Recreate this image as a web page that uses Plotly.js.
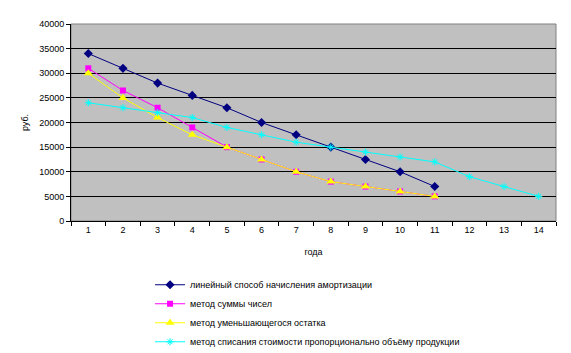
<!DOCTYPE html>
<html><head><meta charset="utf-8">
<script src="https://cdn.plot.ly/plotly-3.0.1.min.js"></script>
<style>html,body{margin:0;padding:0;background:#fff}</style>
</head><body>
<div id="chart" style="width:571px;height:353px"></div>
<script>
var years = ['1','2','3','4','5','6','7','8','9','10','11','12','13','14'];
var linear = [34000,31000,28000,25500,23000,20000,17500,15000,12500,10000,7000];
var sumDigits = [31000,26500,23000,19000,15000,12500,10000,8000,7000,6000,5000];
var declining = [30000,25000,21000,17500,15000,12500,10000,8000,7000,6000,5000];
var production = [24000,23000,22000,21000,19000,17500,16000,15000,14000,13000,12000,9000,7000,5000];
var names = ['линейный способ начисления амортизации','метод суммы чисел','метод уменьшающегося остатка','метод списания стоимости пропорционально объёму продукции'];

var traces = [
 {x: years.slice(0, linear.length), y: linear, name: names[0], mode:'lines+markers', line:{color:'#000080', width:1}, marker:{symbol:'diamond', size:7, color:'#000080'}},
 {x: years.slice(0, sumDigits.length), y: sumDigits, name: names[1], mode:'lines+markers', line:{color:'#FF00FF', width:1}, marker:{symbol:'square', size:6, color:'#FF00FF'}},
 {x: years.slice(0, declining.length), y: declining, name: names[2], mode:'lines+markers', line:{color:'#FFFF00', width:1}, marker:{symbol:'triangle-up', size:8, color:'#FFFF00'}},
 {x: years.slice(0, production.length), y: production, name: names[3], mode:'lines+markers', line:{color:'#00FFFF', width:1}, marker:{symbol:'asterisk-open', size:6, color:'#00FFFF', line:{color:'#00FFFF', width:1}}}
];

var layout = {
 width:571, height:353,
 margin:{l:71, r:15, t:24, b:132, autoexpand:false},
 paper_bgcolor:'#FFFFFF', plot_bgcolor:'#C0C0C0',
 font:{family:'Liberation Sans, Arial, sans-serif', size:9, color:'#000'},
 showlegend:true,
 xaxis:{type:'category', categoryorder:'array', categoryarray: years, range:[-0.5,13.5], tickson:'boundaries', ticks:'outside', ticklen:4, tickcolor:'#000', showgrid:false, showline:true, linecolor:'#000', linewidth:1, zeroline:false, tickangle:0, tickfont:{size:9}, title:{text:'года', font:{size:9}, standoff:14}, automargin:false},
 yaxis:{range:[0,40000], dtick:5000, tickmode:'linear', tick0:0, tickformat:'d', separatethousands:false, ticks:'outside', ticklen:4, tickcolor:'#000', showgrid:true, gridcolor:'#000', gridwidth:1, showline:true, linecolor:'#000', linewidth:1, zeroline:false, tickfont:{size:9}, title:{text:'руб.', font:{size:9}, standoff:9}, automargin:false},
 shapes:[{type:'rect', xref:'paper', yref:'paper', x0:0, x1:1, y0:0, y1:1, line:{color:'#808080', width:1}, layer:'below'}],
 legend:{x:0.163, xanchor:'left', y:-0.25, yanchor:'top', bgcolor:'rgba(0,0,0,0)', font:{size:9}, itemwidth:30, traceorder:'normal'}
};
Plotly.newPlot('chart', traces, layout, {displayModeBar:false, staticPlot:true});
</script>
</body></html>
